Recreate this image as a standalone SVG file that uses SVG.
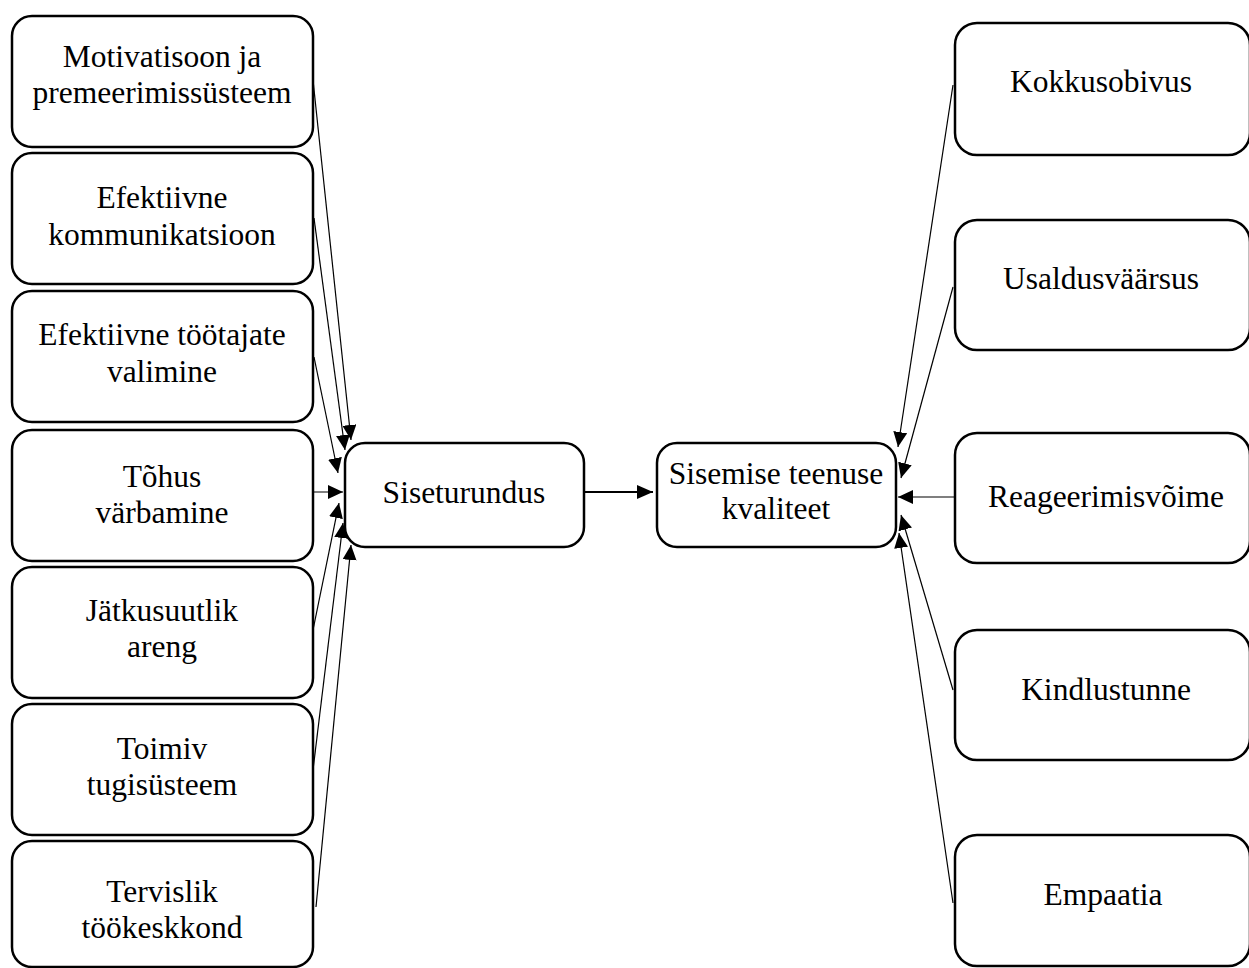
<svg xmlns="http://www.w3.org/2000/svg" width="1249" height="968" viewBox="0 0 1249 968">
<defs>
<style>
.box{fill:#fff;stroke:#000;stroke-width:2.5}
.t{font-family:"Liberation Serif","Times New Roman",serif;font-size:31.5px;fill:#000;text-anchor:middle}
.c{stroke:#000;stroke-width:1.2;fill:none;marker-end:url(#ah)}
.cm{stroke:#000;stroke-width:2;fill:none;marker-end:url(#ahm)}
</style>
<marker id="ah" markerUnits="userSpaceOnUse" markerWidth="15" markerHeight="14" refX="15" refY="7" orient="auto">
<path d="M0,0 L15,7 L0,14 z" fill="#000"/>
</marker>
<marker id="ahm" markerUnits="userSpaceOnUse" markerWidth="16" markerHeight="14" refX="16" refY="7" orient="auto">
<path d="M0,0 L16,7 L0,14 z" fill="#000"/>
</marker>
</defs>
<rect width="1249" height="968" fill="#fff"/>

<g id="connectors">
<line class="c" x1="313" y1="80" x2="351" y2="440"/>
<line class="c" x1="314" y1="218" x2="345" y2="450"/>
<line class="c" x1="314" y1="357" x2="338" y2="473"/>
<line class="c" x1="310" y1="492" x2="343" y2="492"/>
<line class="c" x1="313" y1="630" x2="339" y2="503"/>
<line class="c" x1="313" y1="770" x2="343" y2="523"/>
<line class="c" x1="316" y1="907" x2="351" y2="545"/>
<line class="cm" x1="584" y1="492" x2="653" y2="492"/>
<line class="c" x1="953" y1="85" x2="898" y2="447"/>
<line class="c" x1="953" y1="287" x2="901" y2="478"/>
<line class="c" x1="955" y1="497" x2="898" y2="497"/>
<line class="c" x1="953" y1="690" x2="901" y2="515"/>
<line class="c" x1="953" y1="903" x2="899" y2="533"/>
</g>

<g id="motivatsioon">
<rect class="box" x="12" y="16" width="301" height="131" rx="20"/>
<text class="t" x="162" y="67">Motivatisoon ja</text>
<text class="t" x="162" y="103">premeerimissüsteem</text>
</g>
<g id="kommunikatsioon">
<rect class="box" x="12" y="153" width="301" height="131" rx="20"/>
<text class="t" x="162" y="208">Efektiivne</text>
<text class="t" x="162" y="245">kommunikatsioon</text>
</g>
<g id="valimine">
<rect class="box" x="12" y="291" width="301" height="131" rx="20"/>
<text class="t" x="162" y="345">Efektiivne töötajate</text>
<text class="t" x="162" y="382">valimine</text>
</g>
<g id="varbamine">
<rect class="box" x="12" y="430" width="301" height="131" rx="20"/>
<text class="t" x="162" y="487">Tõhus</text>
<text class="t" x="162" y="523">värbamine</text>
</g>
<g id="areng">
<rect class="box" x="12" y="567" width="301" height="131" rx="20"/>
<text class="t" x="162" y="621">Jätkusuutlik</text>
<text class="t" x="162" y="657">areng</text>
</g>
<g id="tugisusteem">
<rect class="box" x="12" y="704" width="301" height="131" rx="20"/>
<text class="t" x="162" y="759">Toimiv</text>
<text class="t" x="162" y="795">tugisüsteem</text>
</g>
<g id="tookeskkond">
<rect class="box" x="12" y="841" width="301" height="126" rx="20"/>
<text class="t" x="162" y="902">Tervislik</text>
<text class="t" x="162" y="938">töökeskkond</text>
</g>

<g id="siseturundus">
<rect class="box" x="345" y="443" width="239" height="104" rx="20"/>
<text class="t" x="464" y="503">Siseturundus</text>
</g>
<g id="kvaliteet">
<rect class="box" x="657" y="443" width="239" height="104" rx="20"/>
<text class="t" x="776" y="484">Sisemise teenuse</text>
<text class="t" x="776" y="519">kvaliteet</text>
</g>

<g id="kokkusobivus">
<rect class="box" x="955" y="23" width="295" height="132" rx="22"/>
<text class="t" x="1101" y="92">Kokkusobivus</text>
</g>
<g id="usaldusvaarsus">
<rect class="box" x="955" y="220" width="295" height="130" rx="22"/>
<text class="t" x="1101" y="289">Usaldusväärsus</text>
</g>
<g id="reageerimisvoime">
<rect class="box" x="955" y="433" width="295" height="130" rx="22"/>
<text class="t" x="1106" y="507">Reageerimisvõime</text>
</g>
<g id="kindlustunne">
<rect class="box" x="955" y="630" width="295" height="130" rx="22"/>
<text class="t" x="1106" y="700">Kindlustunne</text>
</g>
<g id="empaatia">
<rect class="box" x="955" y="835" width="295" height="131" rx="22"/>
<text class="t" x="1103" y="905">Empaatia</text>
</g>
</svg>
